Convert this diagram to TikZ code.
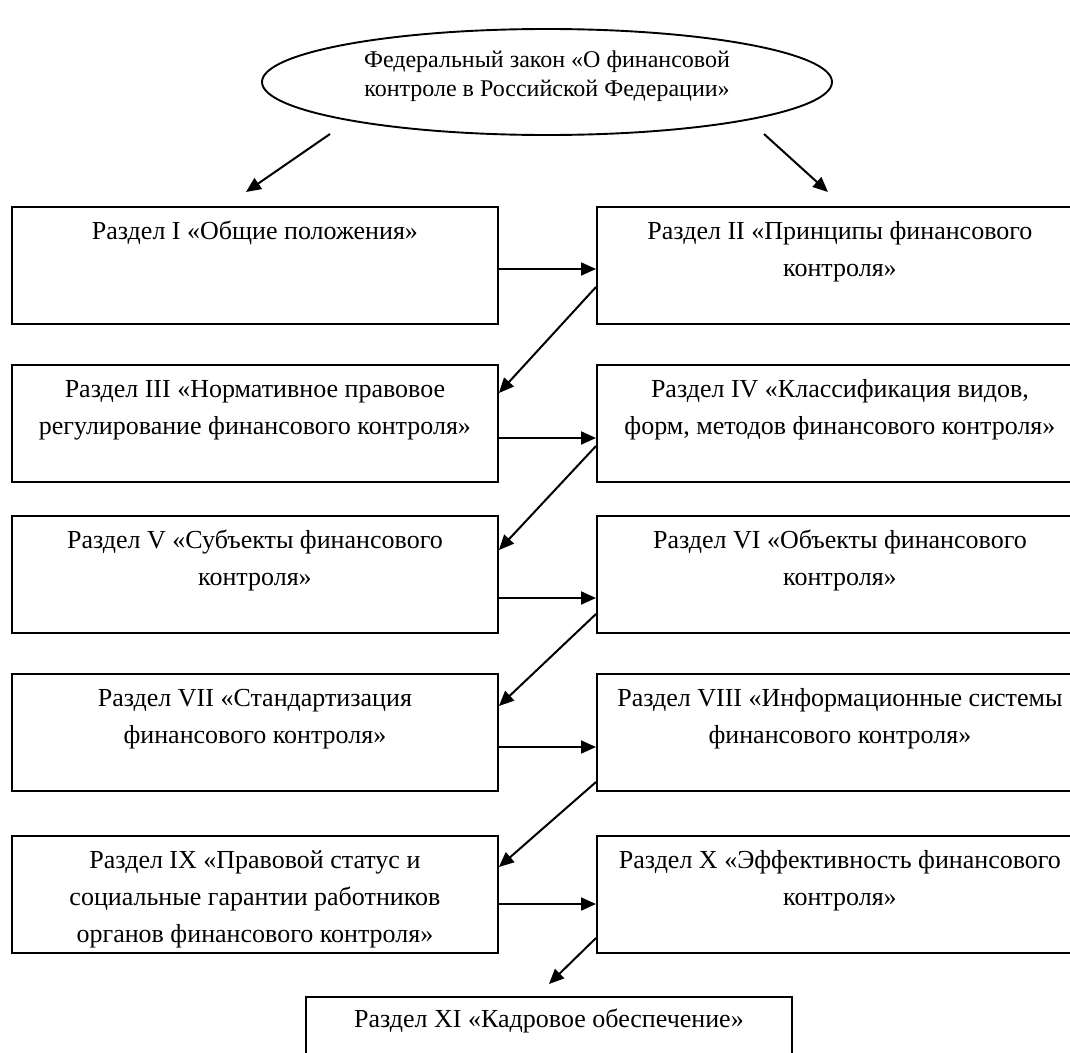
\documentclass[tikz,border=0pt]{standalone}
\usepackage{fontspec}
\setmainfont{Liberation Serif}
\usetikzlibrary{arrows.meta,shapes.geometric}
\newcommand{\boxtext}[2][33pt]{\parbox[t][117pt][t]{486pt}{\centering\fontsize{26}{37}\selectfont\rule{0pt}{#1}#2}}
\tikzset{
  secbox/.style={draw, line width=1.9pt, inner sep=0pt, anchor=north west, rectangle},
  arr/.style={line width=2pt, -{Triangle[length=15pt,width=13pt]}},
}
\begin{document}
\begin{tikzpicture}[x=1pt,y=-1pt]
\useasboundingbox (0,0) rectangle (1070,1052);
\fill[white] (0,0) rectangle (1070,1052);
\clip (0,0) rectangle (1070,1052);
% top ellipse
\node[ellipse, draw, line width=1.9pt, minimum width=570pt, minimum height=106pt, inner sep=0pt] (law) at (547,82) {};
\node[align=center, font=\fontsize{24}{29}\selectfont, inner sep=0pt] (lawtext) at (547,76)
  {Федеральный закон «О финансовой\\контроле в Российской Федерации»};
% section boxes
\node[secbox] (s1) at (11,206) {\boxtext{Раздел I «Общие положения»}};
\node[secbox] (s2) at (596,206) {\boxtext{Раздел II «Принципы финансового\\контроля»}};
\node[secbox] (s3) at (11,364) {\boxtext{Раздел III «Нормативное правовое\\регулирование финансового контроля»}};
\node[secbox] (s4) at (596,364) {\boxtext{Раздел IV «Классификация видов,\\форм, методов финансового контроля»}};
\node[secbox] (s5) at (11,515) {\boxtext{Раздел V «Субъекты финансового\\контроля»}};
\node[secbox] (s6) at (596,515) {\boxtext{Раздел VI «Объекты финансового\\контроля»}};
\node[secbox] (s7) at (11,673) {\boxtext{Раздел VII «Стандартизация\\финансового контроля»}};
\node[secbox] (s8) at (596,673) {\boxtext{Раздел VIII «Информационные системы\\финансового контроля»}};
\node[secbox] (s9) at (11,835) {\boxtext{Раздел IX «Правовой статус и\\социальные гарантии работников\\органов финансового контроля»}};
\node[secbox] (s10) at (596,835) {\boxtext{Раздел X «Эффективность финансового\\контроля»}};
\node[secbox] (s11) at (305,996) {\boxtext[31pt]{Раздел XI «Кадровое обеспечение»}};
% arrows from the law
\draw[arr] ([xshift=-217pt,yshift=-52pt]law.center) -- ([xshift=-9pt,yshift=14pt]s1.north);
\draw[arr] ([xshift=217pt,yshift=-52pt]law.center) -- ([xshift=-12pt,yshift=14pt]s2.north);
% horizontal arrows
\draw[arr] ([yshift=-63pt]s1.north east) -- ([yshift=-63pt]s2.north west);
\draw[arr] ([yshift=-74pt]s3.north east) -- ([yshift=-74pt]s4.north west);
\draw[arr] ([yshift=-83pt]s5.north east) -- ([yshift=-83pt]s6.north west);
\draw[arr] ([yshift=-74pt]s7.north east) -- ([yshift=-74pt]s8.north west);
\draw[arr] ([yshift=-69pt]s9.north east) -- ([yshift=-69pt]s10.north west);
% diagonal arrows
\draw[arr] ([yshift=-81pt]s2.north west) -- ([yshift=-29pt]s3.north east);
\draw[arr] ([yshift=-82pt]s4.north west) -- ([yshift=-35pt]s5.north east);
\draw[arr] ([yshift=-99pt]s6.north west) -- ([yshift=-33pt]s7.north east);
\draw[arr] ([yshift=-109pt]s8.north west) -- ([yshift=-32pt]s9.north east);
\draw[arr] ([yshift=-103pt]s10.north west) -- ([yshift=12pt]s11.north);
\end{tikzpicture}
\end{document}
